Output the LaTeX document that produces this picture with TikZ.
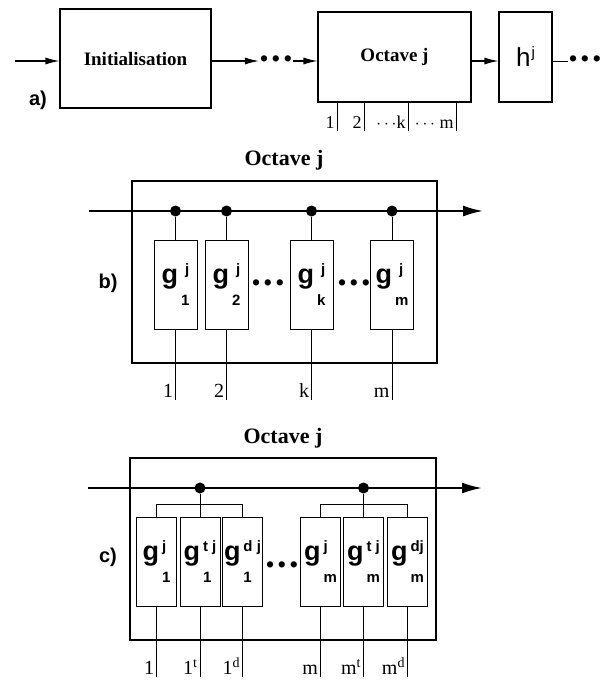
\documentclass[tikz,border=0pt]{standalone}
\usepackage{fontspec}
\setmainfont{Liberation Serif}
\setsansfont{Liberation Sans}
\usetikzlibrary{arrows.meta}
\newcommand{\gfilt}[2]{{\fontsize{27}{27}\selectfont g}\hspace{3pt}\ooalign{\raisebox{9pt}{#1}\cr\raisebox{-22pt}{#2}\cr}}
\newcommand{\hsym}{{\fontsize{26}{26}\selectfont h}\hspace{1pt}\raisebox{9pt}{j}}
\newcommand{\dotrow}{\textbullet\,\textbullet\,\textbullet}
\begin{document}
\begin{tikzpicture}[x=1pt, y=-1pt, >={Latex[length=14pt,width=7pt]}]
    % wavelet octave decomposition, parts a) b) c)
    \tikzset{blk/.style={draw, line width=1.1pt, inner sep=0pt}, frame/.style={draw, line width=2.2pt, inner sep=0pt},
        filt/.style={draw, line width=0.9pt, inner sep=0pt, minimum height=89pt, font=\sffamily\bfseries\fontsize{15}{15}\selectfont},
        bus/.style={line width=2pt, -{Latex[length=20pt,width=11pt]}}, wire/.style={line width=0.9pt}, sig/.style={line width=1.1pt, ->},
        tap/.style={circle, fill, inner sep=0pt, minimum size=11pt}, dotsrow/.style={inner sep=1pt, font=\sffamily\fontsize{23}{23}\selectfont},
        lbl/.style={font=\fontsize{20}{20}\selectfont, anchor=south east, inner sep=2pt}, lbla/.style={lbl, font=\fontsize{18}{18}\selectfont},
        title/.style={font=\bfseries\fontsize{22}{22}\selectfont}, part/.style={font=\sffamily\bfseries\fontsize{20}{20}\selectfont}}
    \useasboundingbox (0,0) rectangle (605,681);
    % a)
    \node[blk, minimum width=151pt, minimum height=99pt, font=\bfseries\fontsize{19}{19}\selectfont] (init) at (135.5,58.5) {Initialisation};
    \node[blk, minimum width=153pt, minimum height=90pt, font=\bfseries\fontsize{19}{19}\selectfont] (oct) at (394.5,57) {Octave j};
    \node[blk, minimum width=53pt, minimum height=90pt, font=\sffamily\fontsize{15}{15}\selectfont] (hj) at (525.5,57) {\hsym};
    \node[dotsrow] (da1) at (276,61) {\dotrow};
    \node[dotsrow] (da2) at (585,61) {\dotrow};
    \coordinate (ain) at (15,61);
    \draw[sig] (ain) -- (ain -| init.west);
    \draw[sig] (ain -| init.east) -- (da1.west);
    \draw[sig] (da1.east) -- (ain -| oct.west);
    \draw[sig] (ain -| oct.east) -- (ain -| hj.west);
    \draw[wire] (ain -| hj.east) -- (da2.west);
    \foreach \x/\t [count=\i] in {337/1, 364/2, 408/{$\cdots$k}, 456/{$\cdots$~m}} {
        \coordinate (ao\i) at (\x,131);
        \draw[wire] (ao\i |- oct.south) -- (ao\i) node[lbla] {\t};
    }
    \node[part] (pa) at (38,100) {a)};
    % b)
    \node[title] (ttlb) at (284,160) {Octave j};
    \node[frame, minimum width=305pt, minimum height=182pt] (fb) at (284.5,272) {};
    \coordinate (bin) at (89,211); \coordinate (bout) at (483,211);
    \draw[bus] (bin) -- (bout);
    \foreach \x/\s [count=\i] in {175.5/1, 226.5/2, 311.5/k, 392/m} {
        \node[filt, minimum width=43pt] (gb\i) at (\x,284.5) {\gfilt{\hspace{4pt}j}{\s}};
        \node[tap] (tpb\i) at (\x,211) {};
        \coordinate (ob\i) at (\x,400);
        \draw[wire] (tpb\i) -- (gb\i.north);
        \draw[wire] (gb\i.south) -- (ob\i) node[lbl] {\s};
    }
    \node[dotsrow] (db1) at (268,285) {\dotrow};
    \node[dotsrow] (db2) at (354,285) {\dotrow};
    \node[part] (pb) at (108,283) {b)};
    % c)
    \node[title] (ttlc) at (283,438) {Octave j};
    \node[frame, minimum width=306pt, minimum height=182pt] (fc) at (283,549) {};
    \coordinate (cin) at (88,488); \coordinate (cout) at (482,488);
    \draw[bus] (cin) -- (cout);
    \foreach \x/\sp/\sb/\t [count=\i] in {156.5/j/1/1, 200/{t j}/1/{1\textsuperscript{t}}, 242.5/{d j}/1/{1\textsuperscript{d}},
        320.5/j/m/m, 363.5/{t j}/m/{m\textsuperscript{t}}, 407.5/{dj}/m/{m\textsuperscript{d}}} {
        \node[filt, minimum width=40pt] (gc\i) at (\x,561.5) {\gfilt{\sp}{\sb}};
        \coordinate (oc\i) at (\x,677);
        \draw[wire] (gc\i.south) -- (oc\i) node[lbl] {\t};
    }
    \node[tap] (tpc1) at (200,488) {}; \node[tap] (tpc2) at (363.5,488) {};
    \draw[wire] (tpc1) -- (gc2.north); \draw[wire] (tpc2) -- (gc5.north);
    \draw[wire] (gc1.north) -- ++(0,-12) -| (gc3.north);
    \draw[wire] (gc4.north) -- ++(0,-12) -| (gc6.north);
    \node[dotsrow] (dc1) at (282,567) {\dotrow};
    \node[part] (pc) at (108,557) {c)};
\end{tikzpicture}
\end{document}
